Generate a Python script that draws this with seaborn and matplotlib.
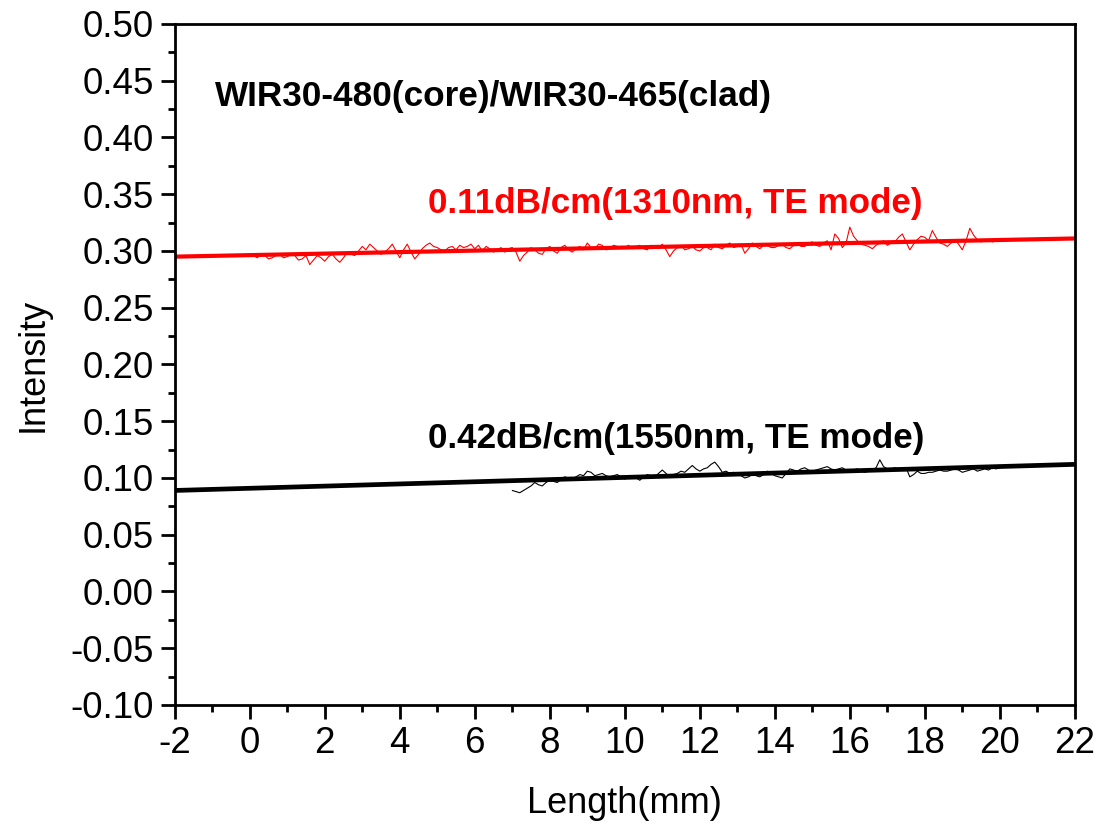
import numpy as np
import pandas as pd
import seaborn as sns
import matplotlib.pyplot as plt
from matplotlib.ticker import MultipleLocator

# 1310 nm measurement (red), x step 0.1 mm from 0 to 20
red_x = np.round(np.arange(0, 20.001, 0.1), 2)
red_y = [0.297, 0.296, 0.294, 0.297, 0.296, 0.293, 0.294, 0.296, 0.297, 0.294,
         0.295, 0.297, 0.296, 0.292, 0.293, 0.296, 0.288, 0.292, 0.296, 0.294,
         0.291, 0.295, 0.297, 0.293, 0.290, 0.294, 0.299, 0.297, 0.296, 0.300,
         0.304, 0.301, 0.306, 0.303, 0.300, 0.297, 0.299, 0.302, 0.306, 0.300,
         0.294, 0.301, 0.306, 0.299, 0.293, 0.297, 0.302, 0.305, 0.307, 0.304,
         0.303, 0.301, 0.300, 0.303, 0.304, 0.301, 0.305, 0.303, 0.304, 0.306,
         0.302, 0.305, 0.300, 0.304, 0.302, 0.299, 0.301, 0.303, 0.299, 0.302,
         0.303, 0.299, 0.291, 0.296, 0.299, 0.303, 0.301, 0.298, 0.297, 0.302,
         0.304, 0.300, 0.298, 0.303, 0.305, 0.301, 0.299, 0.302, 0.304, 0.301,
         0.307, 0.303, 0.302, 0.306, 0.305, 0.301, 0.302, 0.305, 0.304, 0.302,
         0.303, 0.305, 0.302, 0.304, 0.305, 0.302, 0.301, 0.305, 0.304, 0.302,
         0.306, 0.301, 0.295, 0.300, 0.303, 0.305, 0.301, 0.302, 0.304, 0.301,
         0.300, 0.303, 0.303, 0.301, 0.306, 0.303, 0.302, 0.305, 0.307, 0.303,
         0.304, 0.306, 0.298, 0.302, 0.307, 0.304, 0.302, 0.305, 0.305, 0.303,
         0.303, 0.305, 0.306, 0.303, 0.302, 0.305, 0.307, 0.304, 0.304, 0.307,
         0.308, 0.305, 0.304, 0.307, 0.309, 0.301, 0.315, 0.311, 0.303, 0.307,
         0.321, 0.313, 0.309, 0.306, 0.305, 0.304, 0.302, 0.305, 0.307, 0.309,
         0.305, 0.307, 0.308, 0.312, 0.315, 0.308, 0.301, 0.306, 0.310, 0.313,
         0.312, 0.309, 0.318, 0.312, 0.307, 0.306, 0.304, 0.307, 0.310, 0.306,
         0.301, 0.309, 0.320, 0.314, 0.310, 0.308, 0.309, 0.310, 0.308, 0.309,
         0.310]

# 1550 nm measurement (black), x step 0.1 mm from 7 to 20
black_x = np.round(np.arange(7, 20.001, 0.1), 2)
black_y = [0.089, 0.088, 0.087, 0.089, 0.091, 0.093, 0.096, 0.094, 0.093, 0.096,
           0.098, 0.097, 0.096, 0.099, 0.101, 0.100, 0.099, 0.101, 0.103, 0.102,
           0.106, 0.105, 0.102, 0.103, 0.104, 0.102, 0.101, 0.102, 0.103, 0.101,
           0.099, 0.101, 0.102, 0.100, 0.098, 0.101, 0.103, 0.102, 0.101, 0.104,
           0.107, 0.104, 0.101, 0.103, 0.104, 0.106, 0.105, 0.108, 0.111, 0.108,
           0.106, 0.108, 0.109, 0.112, 0.114, 0.110, 0.105, 0.106, 0.104, 0.105,
           0.103, 0.102, 0.100, 0.101, 0.103, 0.102, 0.101, 0.103, 0.106, 0.104,
           0.102, 0.101, 0.100, 0.104, 0.108, 0.107, 0.106, 0.108, 0.109, 0.107,
           0.106, 0.107, 0.108, 0.109, 0.110, 0.108, 0.107, 0.108, 0.109, 0.107,
           0.106, 0.107, 0.108, 0.106, 0.105, 0.106, 0.107, 0.109, 0.116, 0.110,
           0.108, 0.108, 0.109, 0.108, 0.107, 0.109, 0.101, 0.103, 0.106, 0.104,
           0.104, 0.105, 0.105, 0.106, 0.107, 0.106, 0.106, 0.107, 0.108, 0.107,
           0.105, 0.106, 0.107, 0.108, 0.106, 0.107, 0.108, 0.107, 0.109, 0.108,
           0.109]

# linear fits
fit_x = [-2, 22]
red_fit = [0.295, 0.311]
black_fit = [0.089, 0.112]

sns.set_style("ticks")
plt.rcParams['font.family'] = ['Liberation Sans', 'DejaVu Sans']
plt.rcParams['axes.unicode_minus'] = False
for k in ['text.color', 'axes.labelcolor', 'xtick.color', 'ytick.color']:
    plt.rcParams[k] = 'black'

fig = plt.figure(figsize=(10.99, 8.26), dpi=100)
ax = fig.add_axes([0.159, 0.1465, 0.819, 0.8245])

red_df = pd.DataFrame({'x': red_x, 'y': red_y})
black_df = pd.DataFrame({'x': black_x, 'y': black_y})
sns.lineplot(data=red_df, x='x', y='y', color='red', lw=0.8, ax=ax)
sns.lineplot(data=black_df, x='x', y='y', color='black', lw=0.8, ax=ax)
ax.plot(fit_x, red_fit, color='red', lw=3)
ax.plot(fit_x, black_fit, color='black', lw=3.4)

ax.set_xlim(-2, 22)
ax.set_ylim(-0.10, 0.50)
ax.xaxis.set_major_locator(MultipleLocator(2))
ax.xaxis.set_minor_locator(MultipleLocator(1))
ax.yaxis.set_major_locator(MultipleLocator(0.05))
ax.yaxis.set_minor_locator(MultipleLocator(0.025))
ax.yaxis.set_major_formatter(plt.FormatStrFormatter('%.2f'))
ax.tick_params(which='major', length=10, width=2, labelsize=26.5, direction='out', pad=5)
ax.tick_params(which='minor', length=5, width=2, direction='out')
ax.tick_params(top=False, right=False, which='both')
for s in ax.spines.values():
    s.set_linewidth(2)
    s.set_color('black')

ax.set_xlabel("Length(mm)", fontsize=26, labelpad=18)
ax.set_ylabel("Intensity", fontsize=26, labelpad=14)

ax.text(-0.93, 0.436, "WIR30-480(core)/WIR30-465(clad)", fontsize=25.3,
        fontweight='bold', va='center', ha='left')
ax.text(4.75, 0.342, "0.11dB/cm(1310nm, TE mode)", fontsize=25.2,
        fontweight='bold', va='center', ha='left', color='red')
ax.text(4.75, 0.135, "0.42dB/cm(1550nm, TE mode)", fontsize=25.2,
        fontweight='bold', va='center', ha='left', color='black')

fig.savefig("out.png", dpi=100)
